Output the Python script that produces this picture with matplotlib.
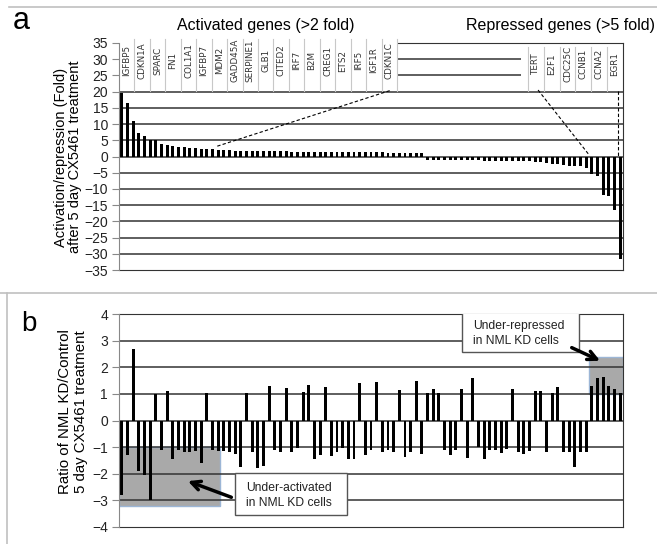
import numpy as np
import matplotlib.pyplot as plt
from matplotlib.patches import Rectangle
from matplotlib.lines import Line2D

# genes named in the two label boxes of panel a
activated_genes = ['IGFBP5', 'CDKN1A', 'SPARC', 'FN1', 'COL1A1', 'IGFBP7', 'MDM2', 'GADD45A',
                   'SERPINE1', 'GLB1', 'CITED2', 'IRF7', 'B2M', 'CREG1', 'ETS2', 'IRF5',
                   'IGF1R', 'CDKN1C']
repressed_genes = ['TERT', 'E2F1', 'CDC25C', 'CCNB1', 'CCNA2', 'EGR1']

# panel a: fold activation / repression after 5 day CX5461
fold_up_strong = [19.5, 16.4, 10.8, 7.4, 6.3, 5.1, 5.0, 3.9, 3.6, 3.3, 3.0, 2.8,
                  2.7, 2.5, 2.4, 2.3, 2.2, 2.1]
fold_up_weak = [1.9, 1.9, 1.8, 1.8, 1.8, 1.7, 1.7, 1.7, 1.6, 1.6, 1.6, 1.6,
                1.5, 1.5, 1.5, 1.5, 1.5, 1.4, 1.4, 1.4, 1.4, 1.4, 1.4, 1.3,
                1.3, 1.3, 1.3, 1.3, 1.3, 1.2, 1.2, 1.2, 1.2, 1.2, 1.2, 1.1]
fold_down_weak = [-1.05, -1.1, -1.1, -1.1, -1.1, -1.15, -1.15, -1.2, -1.2,
                  -1.2, -1.25, -1.3, -1.3, -1.3, -1.35, -1.4, -1.4,
                  -1.5, -1.5, -1.6, -1.8,
                  -2.1, -2.3, -2.4, -2.6, -2.8, -2.9, -2.9, -3.4]
fold_down_strong = [-5.4, -5.9, -12.0, -12.3, -16.6, -31.5]

# panel b: ratio NML KD / control, same gene order
ratio_kd = [-2.8, -1.3, 2.7, -1.9, -2.05, -3.0, 1.0, -1.1, 1.1, -1.45,
            -1.1, -1.2, -1.2, -1.15, -1.6, 1.05, -1.1, -1.15, -1.15, -1.2,
            -1.25, -1.75, 1.04, -1.2, -1.8, -1.7, 1.3, -1.1, -1.17, 1.23,
            -1.17, -1.04, 1.06, 1.32, -1.43, -1.3, 1.26, -1.34, -1.17, -1.04,
            -1.43, -1.43, 1.39, -1.3, -1.1, 1.43, -1.17, -1.1, -1.17, 1.14,
            -1.36, -1.2, 1.5, -1.26, 1.02, 1.17, 1.02, -1.1, -1.3, -1.1,
            1.17, -1.39, 1.6, -1.0, -1.43, -1.1, -1.1, -1.23, -1.06, 1.2,
            -1.17, -1.26, -1.13, 1.1, 1.12, -1.17, 1.04, 1.24, -1.17, -1.2,
            -1.73, -1.2, -1.2, 1.3, 1.6, 1.65, 1.3, 1.2, 1.05]

fold = fold_up_strong + fold_up_weak + fold_down_weak + fold_down_strong
x = np.arange(len(fold))
n = len(fold)

plt.rcParams['font.family'] = ['Liberation Sans', 'DejaVu Sans']
fig = plt.figure(figsize=(6.57, 5.44), dpi=100)
W, H = 657.0, 544.0
narrow = ['Liberation Sans Narrow', 'DejaVu Sans']


def fig_rect(x0, y0, x1, y1):
    return [x0 / W, 1 - y1 / H, (x1 - x0) / W, (y1 - y0) / H]


def style_axis(ax):
    ax.set_xlim(-0.5, n - 0.5)
    ax.set_xticks([])
    ax.tick_params(axis='y', length=5, width=0.8, color='#888888', labelsize=10, pad=3,
                   labelcolor='#222222')
    ax.spines['left'].set_color('#888888')
    for s in ['right', 'bottom', 'top']:
        ax.spines[s].set_color('#333333')
    ax.spines['left'].set_zorder(4)
    ax.spines['right'].set_zorder(4)


# ---------- panel a ----------
ax1 = fig.add_axes(fig_rect(119, 43, 623, 270))
style_axis(ax1)
ax1.set_ylim(-35, 35)
ax1.set_yticks(range(-35, 36, 5))
for v in range(-30, 35, 5):
    ax1.axhline(v, color='#333333', lw=1.1, zorder=1)
ax1.bar(x, fold, width=0.52, color='black', zorder=2)

# label box for activated genes
wl = 49.1 / len(activated_genes)
ax1.add_patch(Rectangle((-0.5, 20.3), 49.1, 15.9, facecolor='white', edgecolor='none',
                        zorder=3, clip_on=False))
for k, g in enumerate(activated_genes):
    x0 = -0.5 + k * wl
    ax1.plot([x0 + wl, x0 + wl], [20.3, 36.2], color='#c8c8c8', lw=0.8, zorder=3.5,
             clip_on=False)
    ax1.text(x0 + wl / 2, 29.6, g, rotation=90, ha='center', va='center', fontsize=6.3,
             color='#333333', family=narrow, zorder=4)

# label box for repressed genes
ax1.add_patch(Rectangle((70.5, 20.3), n - 0.5 - 70.5, 13.4, facecolor='white',
                        edgecolor='none', zorder=3))
wr = (n - 0.5 - 71.7) / len(repressed_genes)
for k, g in enumerate(repressed_genes):
    x0 = 71.7 + k * wr
    ax1.plot([x0, x0], [20.3, 33.7], color='#c8c8c8', lw=0.8, zorder=3.5)
    ax1.text(x0 + wr / 2, 28.5, g, rotation=90, ha='center', va='center', fontsize=6.3,
             color='#333333', family=narrow, zorder=4)

# dashed leader lines
ax1.plot([47.3, 16.7], [20.3, 3.1], color='black', lw=0.8, ls=(0, (3, 2)), zorder=4)
ax1.plot([73.5, 82.6], [20.5, 0.3], color='black', lw=0.8, ls=(0, (3, 2)), zorder=4)
ax1.plot([87.7, 87.7], [20.3, 0.0], color='black', lw=0.8, ls=(0, (3, 2)), zorder=4)

# ---------- panel b ----------
ax2 = fig.add_axes(fig_rect(119, 314, 623, 527))
style_axis(ax2)
ax2.set_ylim(-4, 4)
ax2.set_yticks(range(-4, 5))
for v in range(-3, 4):
    ax2.axhline(v, color='#333333', lw=1.1, zorder=1)

ax2.add_patch(Rectangle((-0.5, -3.22), 17.85, 2.22, facecolor='#a9a9a9',
                        edgecolor='#9cb6d6', lw=1, zorder=0.5))
ax2.add_patch(Rectangle((82.5, 1.0), n - 0.5 - 82.5, 1.38, facecolor='#a9a9a9',
                        edgecolor='#9cb6d6', lw=1, zorder=0.5))
ax2.bar(x, ratio_kd, width=0.52, color='black', zorder=2)

ax2.add_patch(Rectangle((20.0, -3.55), 19.7, 1.57, facecolor='white', edgecolor='#555555',
                        lw=1, zorder=5))
ax2.text(22.0, -2.83, 'Under-activated\nin NML KD cells', ha='left', va='center',
         fontsize=8.7, linespacing=1.35, zorder=6, color='#222222')
ax2.add_patch(Rectangle((60.1, 2.56), 20.7, 1.52, facecolor='white', edgecolor='#555555',
                        lw=1, zorder=5))
ax2.text(62.1, 3.28, 'Under-repressed\nin NML KD cells', ha='left', va='center',
         fontsize=8.7, linespacing=1.35, zorder=6, color='#222222')

ax2.annotate('', xy=(11.2, -2.24), xytext=(19.8, -2.92),
             arrowprops=dict(arrowstyle='->', lw=2.5, color='black', mutation_scale=16),
             zorder=6)
ax2.annotate('', xy=(84.9, 2.2), xytext=(79.0, 2.78),
             arrowprops=dict(arrowstyle='->', lw=2.5, color='black', mutation_scale=16),
             zorder=6)

# ---------- figure texts ----------
fig.text(21 / W, 1 - 29 / H, 'a', fontsize=22, ha='center', va='baseline')
fig.text(29 / W, 1 - 331 / H, 'b', fontsize=20, ha='center', va='baseline')
fig.text(266 / W, 1 - 30 / H, 'Activated genes (>2 fold)', fontsize=11.5, ha='center',
         va='baseline')
fig.text(655 / W, 1 - 30 / H, 'Repressed genes (>5 fold)', fontsize=11.5, ha='right',
         va='baseline')
fig.text(68 / W, 1 - 157 / H, 'Activation/repression (Fold)\nafter 5 day CX5461 treatment',
         rotation=90, ha='center', va='center', fontsize=10.5, linespacing=1.05)
fig.text(73 / W, 1 - 412 / H, 'Ratio of NML KD/Control\n5 day CX5461 treatment',
         rotation=90, ha='center', va='center', fontsize=10.8, linespacing=1.1)

# panel frames
for xs, ys in [([9, 657], [7, 7]), ([0, 657], [293, 293]), ([7, 7], [293, 544])]:
    fig.add_artist(Line2D([v / W for v in xs], [1 - v / H for v in ys], color='#c0c0c0',
                          lw=1.2, transform=fig.transFigure))

fig.savefig('out.png', dpi=100)
